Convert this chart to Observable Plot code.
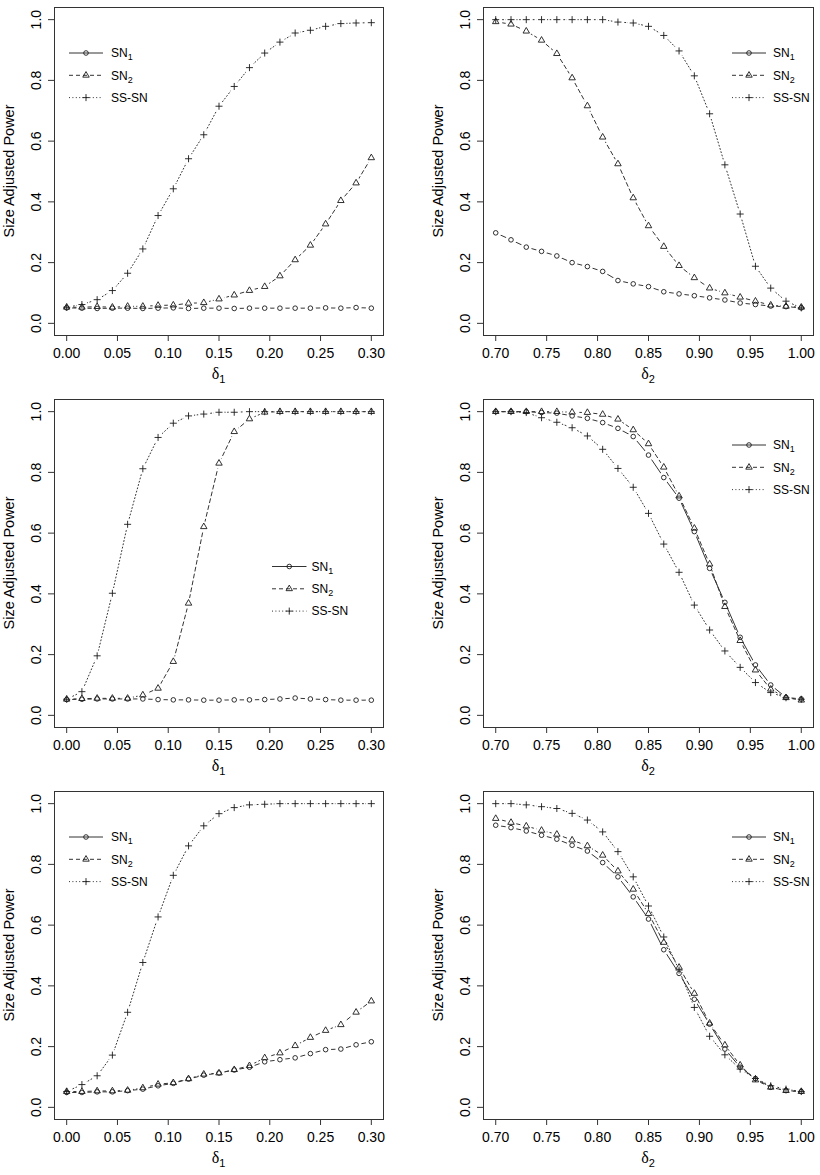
<!DOCTYPE html>
<html>
<head>
<meta charset="utf-8">
<script src="https://cdn.jsdelivr.net/npm/d3@7"></script>
<script src="https://cdn.jsdelivr.net/npm/@observablehq/plot@0.6"></script>
<style>
  html, body { margin: 0; padding: 0; background: #fff; }
  #figure { position: relative; width: 820px; height: 1175px; overflow: hidden; background: #fff; }
  #figure svg { position: absolute; }
</style>
</head>
<body>
<div id="figure"></div>
<script>
// ---- Shift grids -------------------------------------------------------
const delta1 = [0, 0.015, 0.03, 0.045, 0.06, 0.075, 0.09, 0.105, 0.12, 0.135, 0.15,
                0.165, 0.18, 0.195, 0.21, 0.225, 0.24, 0.255, 0.27, 0.285, 0.30];
const delta2 = [0.70, 0.715, 0.73, 0.745, 0.76, 0.775, 0.79, 0.805, 0.82, 0.835, 0.85,
                0.865, 0.88, 0.895, 0.91, 0.925, 0.94, 0.955, 0.97, 0.985, 1.00];

// ---- Tick labels -------------------------------------------------------
const delta1Ticks = [0, 0.05, 0.10, 0.15, 0.20, 0.25, 0.30];
const delta2Ticks = [0.70, 0.75, 0.80, 0.85, 0.90, 0.95, 1.00];
const powerTicks = [0, 0.2, 0.4, 0.6, 0.8, 1.0];

// ---- Size adjusted power, row 1 ----------------------------------------
const r1d1SN1  = [0.051, 0.050, 0.049, 0.050, 0.050, 0.049, 0.050, 0.051, 0.049, 0.050, 0.050,
                  0.049, 0.050, 0.050, 0.050, 0.050, 0.050, 0.051, 0.050, 0.052, 0.050];
const r1d1SN2  = [0.053, 0.053, 0.055, 0.053, 0.056, 0.056, 0.059, 0.060, 0.066, 0.068, 0.080,
                  0.093, 0.108, 0.121, 0.156, 0.209, 0.257, 0.327, 0.404, 0.462, 0.545];
const r1d1SSSN = [0.053, 0.062, 0.078, 0.108, 0.165, 0.245, 0.355, 0.443, 0.542, 0.621, 0.715,
                  0.780, 0.842, 0.890, 0.926, 0.956, 0.965, 0.978, 0.987, 0.989, 0.990];

const r1d2SN1  = [0.298, 0.275, 0.251, 0.237, 0.222, 0.200, 0.187, 0.171, 0.141, 0.130, 0.121,
                  0.104, 0.097, 0.091, 0.084, 0.077, 0.067, 0.062, 0.057, 0.055, 0.051];
const r1d2SN2  = [0.993, 0.985, 0.962, 0.932, 0.888, 0.808, 0.716, 0.613, 0.525, 0.413, 0.321,
                  0.253, 0.190, 0.150, 0.116, 0.100, 0.086, 0.073, 0.060, 0.056, 0.053];
const r1d2SSSN = [1.000, 1.000, 1.000, 1.000, 1.000, 1.000, 1.000, 1.000, 0.992, 0.989, 0.978,
                  0.948, 0.897, 0.815, 0.690, 0.522, 0.360, 0.188, 0.116, 0.073, 0.051];

// ---- Size adjusted power, row 2 ----------------------------------------
const r2d1SN1  = [0.052, 0.053, 0.054, 0.054, 0.054, 0.054, 0.052, 0.051, 0.051, 0.050, 0.050,
                  0.051, 0.051, 0.052, 0.054, 0.057, 0.054, 0.052, 0.050, 0.050, 0.050];
const r2d1SN2  = [0.053, 0.055, 0.056, 0.056, 0.056, 0.067, 0.089, 0.177, 0.369, 0.621, 0.830,
                  0.934, 0.976, 0.998, 1.000, 1.000, 1.000, 1.000, 1.000, 1.000, 1.000];
const r2d1SSSN = [0.053, 0.078, 0.196, 0.402, 0.629, 0.812, 0.915, 0.962, 0.986, 0.992, 0.998,
                  0.998, 1.000, 1.000, 1.000, 1.000, 1.000, 1.000, 1.000, 1.000, 1.000];

const r2d2SN1  = [1.000, 1.000, 1.000, 0.997, 0.995, 0.986, 0.978, 0.964, 0.945, 0.918, 0.857,
                  0.783, 0.715, 0.605, 0.484, 0.372, 0.257, 0.166, 0.100, 0.059, 0.054];
const r2d2SN2  = [1.000, 1.000, 1.000, 1.000, 1.000, 0.998, 0.997, 0.991, 0.975, 0.940, 0.894,
                  0.817, 0.722, 0.616, 0.498, 0.358, 0.246, 0.149, 0.086, 0.058, 0.050];
const r2d2SSSN = [1.000, 1.000, 0.997, 0.980, 0.965, 0.947, 0.920, 0.876, 0.813, 0.751, 0.665,
                  0.564, 0.471, 0.363, 0.281, 0.212, 0.158, 0.108, 0.075, 0.058, 0.053];

// ---- Size adjusted power, row 3 ----------------------------------------
const r3d1SN1  = [0.049, 0.049, 0.051, 0.051, 0.055, 0.060, 0.071, 0.079, 0.093, 0.106, 0.113,
                  0.123, 0.132, 0.150, 0.157, 0.163, 0.177, 0.190, 0.192, 0.206, 0.216];
const r3d1SN2  = [0.052, 0.052, 0.054, 0.054, 0.056, 0.064, 0.076, 0.081, 0.094, 0.109, 0.113,
                  0.124, 0.137, 0.163, 0.179, 0.203, 0.230, 0.253, 0.272, 0.313, 0.350];
const r3d1SSSN = [0.052, 0.075, 0.104, 0.172, 0.313, 0.477, 0.627, 0.764, 0.861, 0.927, 0.967,
                  0.987, 0.996, 0.998, 1.000, 1.000, 1.000, 1.000, 1.000, 1.000, 1.000];

const r3d2SN1  = [0.929, 0.921, 0.910, 0.896, 0.883, 0.863, 0.844, 0.806, 0.759, 0.693, 0.620,
                  0.519, 0.441, 0.356, 0.274, 0.192, 0.132, 0.095, 0.066, 0.055, 0.052];
const r3d2SN2  = [0.951, 0.938, 0.926, 0.912, 0.899, 0.880, 0.861, 0.830, 0.778, 0.718, 0.638,
                  0.543, 0.461, 0.375, 0.277, 0.205, 0.139, 0.090, 0.066, 0.055, 0.052];
const r3d2SSSN = [1.000, 1.000, 0.996, 0.990, 0.984, 0.968, 0.946, 0.907, 0.842, 0.759, 0.663,
                  0.561, 0.452, 0.329, 0.234, 0.173, 0.126, 0.095, 0.071, 0.060, 0.052];

// ---- Series appearance (R-style pch / lty) -----------------------------
const seriesStyles = [
  {key: "sn1",  name: "SN",    sub: "1", symbol: "circle",   r: 2.3, dash: null},
  {key: "sn2",  name: "SN",    sub: "2", symbol: "triangle", r: 2.4, dash: "4,3"},
  {key: "sssn", name: "SS-SN", sub: null, symbol: "plus",    r: 2.4, dash: "1,2.4"}
];
const d3Symbols = {circle: d3.symbolCircle, triangle: d3.symbolTriangle, plus: d3.symbolPlus};

// ---- Panel layout --------------------------------------------------------
const ROW_H = 392, COL_W = 410;
const MARGIN_TOP = 7, MARGIN_BOTTOM = 57;
const panels = [
  {row: 0, col: 0, shift: 1, values: {sn1: r1d1SN1, sn2: r1d1SN2, sssn: r1d1SSSN}, legend: "topleft"},
  {row: 0, col: 1, shift: 2, values: {sn1: r1d2SN1, sn2: r1d2SN2, sssn: r1d2SSSN}, legend: "topright"},
  {row: 1, col: 0, shift: 1, values: {sn1: r2d1SN1, sn2: r2d1SN2, sssn: r2d1SSSN}, legend: "midright"},
  {row: 1, col: 1, shift: 2, values: {sn1: r2d2SN1, sn2: r2d2SN2, sssn: r2d2SSSN}, legend: "topright"},
  {row: 2, col: 0, shift: 1, values: {sn1: r3d1SN1, sn2: r3d1SN2, sssn: r3d1SSSN}, legend: "topleft"},
  {row: 2, col: 1, shift: 2, values: {sn1: r3d2SN1, sn2: r3d2SN2, sssn: r3d2SSSN}, legend: "topright"}
];
// legend anchor: x of line start, line end, text start; y of first row (below box top)
const legendPlacement = {
  topleft:  {x0: 69,  x1: 103,   tx: 111,   y0: 46},
  topright: {x0: 322, x1: 356,   tx: 363,   y0: 46},
  midright: {x0: 272, x1: 306.5, tx: 311.5, y0: 167.5}
};
const LEGEND_STEP = 22.3;
const GAP = 5.5; // type = "b": line stops short of each point

const NS = "http://www.w3.org/2000/svg";
const figure = document.getElementById("figure");

function parseTranslate(el) {
  const m = /translate\(\s*([-\d.e]+)[,\s]+([-\d.e]+)\s*\)/.exec((el && el.getAttribute("transform")) || "");
  return m ? [+m[1], +m[2]] : [0, 0];
}

panels.forEach((p, pi) => {
  const xs = p.shift === 1 ? delta1 : delta2;
  const xTicks = p.shift === 1 ? delta1Ticks : delta2Ticks;
  const xDomain = p.shift === 1 ? [-0.012, 0.312] : [0.688, 1.012];
  const marginLeft = p.col === 0 ? 54 : 73;
  const marginRight = p.col === 0 ? 27 : 7;

  const rows = seriesStyles.flatMap(s => p.values[s.key].map((v, i) => ({key: s.key, x: xs[i], y: v})));

  const marks = [
    Plot.frame({stroke: "#333", strokeWidth: 1}),
    Plot.axisX({ticks: xTicks, tickSize: 6, tickPadding: 7, stroke: "#333",
                tickFormat: d => d.toFixed(2), label: null, fontSize: 14}),
    Plot.axisY({ticks: powerTicks, tickSize: 6, tickPadding: 7.6, tickRotate: -90, stroke: "#333",
                tickFormat: d => d.toFixed(1), label: null, fontSize: 14})
  ];
  // connecting lines first (one mark per series), then the point symbols
  for (const s of seriesStyles) {
    marks.push(Plot.line(rows.filter(d => d.key === s.key), {
      x: "x", y: "y", stroke: "#333", strokeWidth: 1,
      strokeDasharray: s.dash || undefined
    }));
  }
  for (const s of seriesStyles) {
    marks.push(Plot.dot(rows.filter(d => d.key === s.key), {
      x: "x", y: "y", symbol: s.symbol, r: s.r, fill: "none",
      stroke: "#1a1a1a", strokeWidth: 0.9
    }));
  }

  const svg = Plot.plot({
    width: COL_W, height: ROW_H,
    marginLeft, marginRight, marginTop: MARGIN_TOP, marginBottom: MARGIN_BOTTOM,
    x: {domain: xDomain},
    y: {domain: [-0.04, 1.04]},
    style: {fontFamily: "'Liberation Sans', Arial, sans-serif", fontSize: "14px",
            color: "#000", background: "transparent", overflow: "visible"},
    marks
  });
  svg.style.left = `${p.col * COL_W}px`;
  svg.style.top = `${p.row * ROW_H}px`;
  figure.appendChild(svg);

  // Cut the connecting lines around each point, as R's type = "b" does.
  const lineGroups = svg.querySelectorAll('g[aria-label="line"]');
  const dotGroups = svg.querySelectorAll('g[aria-label="dot"]');
  let defs = svg.querySelector("defs");
  if (!defs) { defs = document.createElementNS(NS, "defs"); svg.insertBefore(defs, svg.firstChild); }
  seriesStyles.forEach((s, si) => {
    const dotG = dotGroups[si], lineG = lineGroups[si];
    if (!dotG || !lineG) return;
    const [dtx, dty] = parseTranslate(dotG);
    const [ltx, lty] = parseTranslate(lineG);
    const pts = [];
    dotG.querySelectorAll("circle, path").forEach(el => {
      if (el.tagName.toLowerCase() === "circle") pts.push([+el.getAttribute("cx"), +el.getAttribute("cy")]);
      else pts.push(parseTranslate(el));
    });
    if (!pts.length) return;
    const id = `gap-${pi}-${s.key}`;
    const mask = d3.select(defs).append("mask").attr("id", id).attr("maskUnits", "userSpaceOnUse")
      .attr("x", -1000).attr("y", -1000).attr("width", 3000).attr("height", 3000);
    mask.append("rect").attr("x", -1000).attr("y", -1000).attr("width", 3000).attr("height", 3000)
      .attr("fill", "#fff").attr("stroke", "none");
    mask.selectAll("circle").data(pts).join("circle")
      .attr("cx", d => d[0] + dtx - ltx).attr("cy", d => d[1] + dty - lty).attr("r", GAP)
      .attr("fill", "#000").attr("stroke", "none");
    lineG.querySelectorAll("path").forEach(path => path.setAttribute("mask", `url(#${id})`));
  });

  const g = d3.select(svg).append("g").attr("class", "annotations").attr("text-anchor", "start");
  const boxTop = MARGIN_TOP, boxBottom = ROW_H - MARGIN_BOTTOM;
  const boxLeft = marginLeft, boxRight = COL_W - marginRight;

  // Axis titles
  g.append("text")
    .attr("transform", `translate(${boxLeft - 40},${(boxTop + boxBottom) / 2}) rotate(-90)`)
    .attr("text-anchor", "middle").attr("font-size", 14.5).attr("fill", "#000")
    .text("Size Adjusted Power");
  const xt = g.append("text")
    .attr("x", (boxLeft + boxRight) / 2).attr("y", boxBottom + 43.5)
    .attr("text-anchor", "middle").attr("fill", "#000");
  xt.append("tspan").attr("font-family", "'Liberation Serif', 'DejaVu Serif', serif").attr("font-size", 16).text("δ");
  xt.append("tspan").attr("font-size", 11).attr("dy", 4).text(String(p.shift));

  // Legend (no box)
  const L = legendPlacement[p.legend];
  seriesStyles.forEach((s, i) => {
    const y = boxTop + L.y0 + i * LEGEND_STEP;
    g.append("line").attr("x1", L.x0).attr("x2", L.x1).attr("y1", y).attr("y2", y)
      .attr("stroke", "#333").attr("stroke-width", 1)
      .attr("stroke-dasharray", s.dash || null);
    const cx = (L.x0 + L.x1) / 2;
    g.append("path")
      .attr("d", d3.symbol(d3Symbols[s.symbol], Math.PI * s.r * s.r)())
      .attr("transform", `translate(${cx},${y})`)
      .attr("fill", "none").attr("stroke", "#1a1a1a").attr("stroke-width", 0.9);
    const t = g.append("text").attr("x", L.tx).attr("y", y + 4.3)
      .attr("text-anchor", "start").attr("font-size", 12).attr("fill", "#000");
    t.append("tspan").text(s.name);
    if (s.sub) t.append("tspan").attr("font-size", 9).attr("dy", 3).text(s.sub);
  });
});
</script>
</body>
</html>
